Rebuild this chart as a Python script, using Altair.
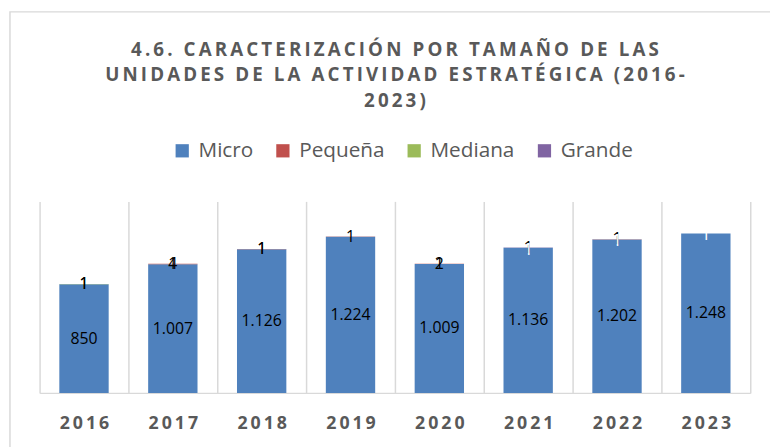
import altair as alt
import pandas as pd

years = ["2016", "2017", "2018", "2019", "2020", "2021", "2022", "2023"]
micro = [850, 1007, 1126, 1224, 1009, 1136, 1202, 1248]
pequena = [1, 4, 1, 1, 2, 1, 1, 0]
mediana = [1, 1, 1, 0, 1, 0, 0, 0]
grande = [0, 0, 0, 0, 0, 1, 1, 1]
series = ["Micro", "Pequeña", "Mediana", "Grande"]
colors = ["#4F81BD", "#C0504D", "#9BBB59", "#8064A2"]
title_lines = [
    "4.6. CARACTERIZACIÓN POR TAMAÑO DE LAS",
    "UNIDADES DE LA ACTIVIDAD ESTRATÉGICA (2016-",
    "2023)",
]

def spaced(s):
    return "\u2009".join(s)

rows = []
for i, y in enumerate(years):
    for k, (s, vals) in enumerate(zip(series, [micro, pequena, mediana, grande])):
        rows.append({"year": y, "series": s, "order": k, "v": vals[i]})
df = pd.DataFrame(rows)

FONT = "Open Sans"
GRAY = "#595959"
GRID = "#d9d9d9"

x_enc = alt.X(
    "year:N",
    sort=years,
    scale=alt.Scale(paddingInner=0, paddingOuter=0),
    axis=alt.Axis(
        title=None, labelAngle=0, grid=True, tickBand="extent", ticks=False,
        domainColor=GRID, gridColor=GRID, gridWidth=1.5, domainWidth=1.5,
        labelFont=FONT, labelFontSize=18, labelFontWeight="bold", labelColor=GRAY,
        labelPadding=22,
        labelExpr="join(split(datum.label, ''), '\u2009')",
    ),
)
y_scale = alt.Scale(domain=[0, 1500])

bars = alt.Chart(df).mark_bar(size=50).encode(
    x=x_enc,
    y=alt.Y("v:Q", stack="zero", scale=y_scale, axis=None),
    color=alt.Color(
        "series:N",
        scale=alt.Scale(domain=series, range=colors),
        legend=alt.Legend(
            title=None, orient="none", direction="horizontal",
            legendX=134, legendY=-62,
            symbolType="square", symbolSize=180, symbolStrokeWidth=0,
            labelFont=FONT, labelFontSize=21, labelColor=GRAY,
            labelOffset=6, columnPadding=19,
        ),
    ),
    order=alt.Order("order:Q"),
)

stacked = (
    alt.Chart(df)
    .transform_stack(stack="v", groupby=["year"], sort=[alt.SortField("order")], as_=["y0", "y1"])
    .transform_calculate(
        mid="(datum.y0 + datum.y1) / 2",
        lab="replace(format(datum.v, ','), ',', '.')",
    )
    .transform_filter("datum.v > 0")
)

labels = stacked.transform_filter("datum.series != 'Grande'").mark_text(
    font=FONT, fontSize=16, baseline="middle", color="black"
).encode(
    x=alt.X("year:N", sort=years),
    y=alt.Y("mid:Q", scale=y_scale),
    text="lab:N",
)

labels_white = stacked.transform_filter("datum.series == 'Grande'").mark_text(
    font=FONT, fontSize=17, baseline="middle", color="white", dy=2
).encode(
    x=alt.X("year:N", sort=years),
    y=alt.Y("mid:Q", scale=y_scale),
    text="lab:N",
)

one = pd.DataFrame({"a": [0]})

border = alt.Chart(one).mark_rect(
    fillOpacity=0, stroke=GRID, strokeWidth=1.5
).encode(
    x=alt.value(-30), x2=alt.value(760), y=alt.value(-192), y2=alt.value(270)
)

title = alt.Chart(one).mark_text(
    font=FONT, fontSize=19, fontWeight="bold", color=GRAY,
    lineHeight=25.5, align="center", baseline="middle",
).encode(
    x=alt.value(360), y=alt.value(-153),
    text=alt.value([spaced(t) for t in title_lines]),
)

chart = (
    alt.layer(border, title, bars, labels, labels_white)
    .properties(
        width=720,
        height=194,
        autosize=alt.AutoSizeParams(type="none"),
        padding={"left": 32, "top": 193, "right": 20, "bottom": 60},
    )
    .configure_view(stroke=None)
)

chart.save("out.html", embed_options={"renderer": "svg", "actions": False})
